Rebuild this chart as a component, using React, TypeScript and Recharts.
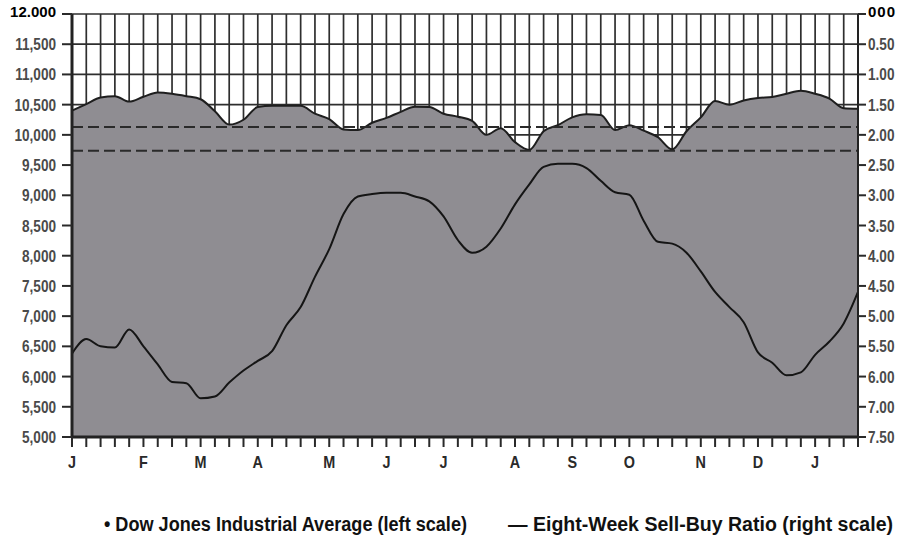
import React from 'react';
import { ComposedChart, Area, Line, XAxis, YAxis, CartesianGrid, ReferenceLine } from 'recharts';

// Weekly observations (index = week number from start of January)
const dowValues = [10400,10510,10620,10640,10550,10630,10700,10680,10640,10590,10390,10170,10250,10460,10480,10480,10480,10350,10260,10090,10080,10200,10280,10380,10465,10460,10350,10300,10230,10000,10110,9880,9750,10060,10160,10290,10340,10330,10080,10160,10070,9960,9760,10060,10290,10560,10500,10570,10610,10625,10680,10730,10680,10600,10440,10430];
const ratioValues = [5.62,5.38,5.50,5.52,5.22,5.50,5.80,6.09,6.11,6.36,6.33,6.10,5.90,5.74,5.58,5.15,4.85,4.35,3.89,3.31,3.02,2.98,2.96,2.96,3.02,3.10,3.35,3.74,3.95,3.85,3.55,3.15,2.82,2.53,2.48,2.48,2.55,2.76,2.95,2.99,3.42,3.77,3.80,3.95,4.26,4.60,4.85,5.10,5.60,5.77,5.98,5.93,5.64,5.42,5.12,4.60];

const monthLabels = ['J','F','M','A','M','J','J','A','S','O','N','D','J'];
const monthWeeks = [0,5,9,13,18,22,26,31,35,39,44,48,52];

const leftTicks = [5000,5500,6000,6500,7000,7500,8000,8500,9000,9500,10000,10500,11000,11500,12000];
const leftTickLabels = ['5,000','5,500','6,000','6,500','7,000','7,500','8,000','8,500','9,000','9,500','10,000','10,500','11,000','11,500','12.000'];
const rightTicks = [0,0.5,1,1.5,2,2.5,3,3.5,4,4.5,5,5.5,6,6.5,7];
const rightTickLabels = ['000','0.50','1.00','1.50','2.00','2.50','3.00','3.50','4.00','4.50','5.00','5.50','6.00','7.00','7.50'];
const dashedLevels = [10130, 9735];

const legendDow = '• Dow Jones Industrial Average (left scale)';
const legendRatio = '—  Eight-Week Sell-Buy Ratio (right scale)';

const data = dowValues.map((d, i) => ({ week: i, dow: d, ratio: ratioValues[i] }));
const weekTicks = data.map(d => d.week);

const FONT = "'Liberation Sans', Arial, sans-serif";
const SQUEEZE = 0.8;

const LeftTick = (props: any) => {
  const { x, y, payload } = props;
  const idx = leftTicks.indexOf(payload.value);
  const isTop = idx === leftTicks.length - 1;
  if (isTop) {
    return (
      <text x={x} y={y} dy={3} textAnchor="end" fontFamily={FONT} fontWeight="bold" fontSize={15} fill="#000">
        {leftTickLabels[idx]}
      </text>
    );
  }
  return (
    <text transform={`translate(${x},${y + 6}) scale(${SQUEEZE},1)`} x={0} y={0} textAnchor="end"
      fontFamily={FONT} fontWeight="bold" fontSize={17} fill="#4a4a4a">
      {leftTickLabels[idx]}
    </text>
  );
};

const RightTick = (props: any) => {
  const { x, y, payload } = props;
  const idx = rightTicks.indexOf(payload.value);
  const isTop = idx === 0;
  if (isTop) {
    return (
      <text x={x} y={y} dy={3} textAnchor="start" fontFamily={FONT} fontWeight="bold" fontSize={15}
        letterSpacing={1} fill="#000">
        {rightTickLabels[idx]}
      </text>
    );
  }
  return (
    <text transform={`translate(${x},${y + 6}) scale(${SQUEEZE},1)`} x={0} y={0} textAnchor="start"
      fontFamily={FONT} fontWeight="bold" fontSize={17} fill="#4a4a4a">
      {rightTickLabels[idx]}
    </text>
  );
};

const XTick = (props: any) => {
  const { x, y, payload } = props;
  const idx = monthWeeks.indexOf(payload.value);
  if (idx < 0) return <g />;
  return (
    <text transform={`translate(${x},${y + 19}) scale(0.9,1)`} x={0} y={0} textAnchor="middle"
      fontFamily={FONT} fontWeight="bold" fontSize={16} fill="#2a2a2a">
      {monthLabels[idx]}
    </text>
  );
};

export default function App() {
  return (
    <div style={{ position: 'absolute', left: 0, top: 0, width: 905, height: 538, background: '#fff' }}>
      <ComposedChart width={905} height={538} data={data} margin={{ top: 14, right: 0, bottom: 0, left: 0 }}>
        <CartesianGrid yAxisId="left" stroke="#2e2e2e" strokeWidth={1.7} fill="#ffffff" />
        <XAxis dataKey="week" type="number" domain={[0, 55]} ticks={weekTicks} interval={0}
          height={101} tickSize={10} tickMargin={2}
          tickLine={{ stroke: '#2a2a2a', strokeWidth: 2 }}
          axisLine={{ stroke: '#222', strokeWidth: 3 }} tick={<XTick />} />
        <YAxis yAxisId="left" domain={[5000, 12000]} ticks={leftTicks} interval={0} width={72}
          tickSize={10} tickMargin={6}
          tickLine={{ stroke: '#2a2a2a', strokeWidth: 2 }}
          axisLine={{ stroke: '#222', strokeWidth: 3 }} tick={<LeftTick />} />
        <YAxis yAxisId="right" orientation="right" reversed domain={[0, 7]} ticks={rightTicks} interval={0}
          width={47} tickSize={8} tickMargin={2}
          tickLine={{ stroke: '#2a2a2a', strokeWidth: 2 }}
          axisLine={{ stroke: '#222', strokeWidth: 2 }} tick={<RightTick />} />
        <Area yAxisId="left" dataKey="dow" type="monotone" baseValue={5000}
          fill="#8f8d92" fillOpacity={1} stroke="#1e1e1e" strokeWidth={2}
          isAnimationActive={false} dot={false} activeDot={false} />
        {dashedLevels.map(v => (
          <ReferenceLine key={v} yAxisId="left" y={v} stroke="#2a2a2a" strokeWidth={2} strokeDasharray="11 5" />
        ))}
        <Line yAxisId="right" dataKey="ratio" type="monotone" stroke="#151515" strokeWidth={2}
          dot={false} activeDot={false} isAnimationActive={false} />
      </ComposedChart>
      <svg width={905} height={538} style={{ position: 'absolute', left: 0, top: 0, pointerEvents: 'none' }}>
        <text x={104} y={531} fontFamily={FONT} fontWeight="bold" fontSize={20} textLength={363}
          lengthAdjust="spacingAndGlyphs" fill="#111">{legendDow}</text>
        <text x={508} y={531} fontFamily={FONT} fontWeight="bold" fontSize={20} textLength={385}
          lengthAdjust="spacingAndGlyphs" fill="#111">{legendRatio}</text>
      </svg>
    </div>
  );
}
